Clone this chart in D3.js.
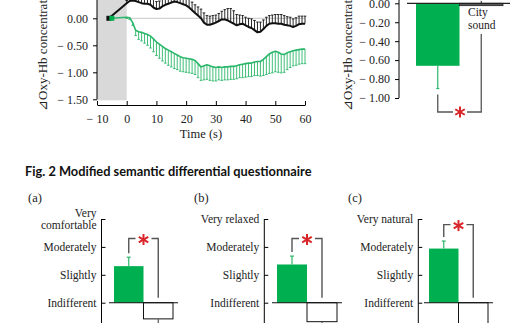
<!DOCTYPE html>
<html><head><meta charset="utf-8">
<script src="https://cdn.jsdelivr.net/npm/d3@7"></script>
<style>body{margin:0;background:#fff}svg{display:block}</style>
</head><body><svg id="c" width="530" height="323"></svg>
<script>
// ---------- data ----------
const timeSec = d3.range(0, 61);
const greenMean = [
  0.02, 0.01,-0.08,-0.22,-0.25,-0.26,-0.28,-0.30,-0.33,-0.38,
 -0.44,-0.48,-0.52,-0.56,-0.59,-0.62,-0.65,-0.68,-0.71,-0.73,
 -0.74,-0.75,-0.76,-0.78,-0.84,-0.90,-0.88,-0.86,-0.88,-0.90,
 -0.91,-0.90,-0.91,-0.90,-0.90,-0.89,-0.89,-0.88,-0.86,-0.85,
 -0.84,-0.83,-0.83,-0.81,-0.80,-0.80,-0.76,-0.71,-0.66,-0.63,
 -0.61,-0.63,-0.66,-0.67,-0.64,-0.62,-0.60,-0.59,-0.58,-0.57,
 -0.57];
const greenErr = [
 0.02,0.03,0.05,0.10,0.14,0.16,0.18,0.20,0.22,0.24,
 0.25,0.26,0.27,0.27,0.28,0.28,0.28,0.27,0.27,0.26,
 0.26,0.26,0.26,0.26,0.26,0.25,0.26,0.27,0.27,0.26,
 0.25,0.24,0.24,0.24,0.24,0.24,0.24,0.24,0.24,0.25,
 0.25,0.25,0.25,0.25,0.26,0.27,0.30,0.33,0.36,0.38,
 0.38,0.37,0.35,0.33,0.31,0.29,0.28,0.28,0.27,0.27,
 0.27];
const blackMean = [
  0.28, 0.32, 0.33, 0.32, 0.30, 0.28, 0.27, 0.27, 0.25, 0.20,
  0.17, 0.18, 0.22, 0.25, 0.27, 0.29, 0.31, 0.30, 0.28, 0.26,
  0.24, 0.20, 0.15, 0.10, 0.05, 0.00,-0.08,-0.12,-0.12,-0.10,
 -0.08,-0.05,-0.02,-0.02,-0.04,-0.07,-0.10,-0.13,-0.11,-0.10,
 -0.13,-0.16,-0.18,-0.22,-0.26,-0.25,-0.20,-0.14,-0.10,-0.09,
 -0.09,-0.10,-0.10,-0.12,-0.13,-0.14,-0.16,-0.14,-0.11,-0.10,
 -0.10];
const blackErr = [
 0.05,0.08,0.10,0.12,0.13,0.14,0.14,0.15,0.15,0.15,
 0.14,0.14,0.15,0.15,0.16,0.16,0.16,0.17,0.17,0.16,
 0.16,0.15,0.15,0.15,0.16,0.17,0.18,0.17,0.16,0.15,
 0.14,0.14,0.15,0.18,0.22,0.25,0.24,0.20,0.17,0.15,
 0.15,0.16,0.17,0.18,0.19,0.18,0.17,0.16,0.15,0.15,
 0.16,0.17,0.17,0.17,0.16,0.16,0.15,0.15,0.15,0.14,
 0.14];
const preTime = {black: -6, green: -5};
const preValue = 0;
const timeTicks = [-10, 0, 10, 20, 30, 40, 50, 60];
const oxyTicks = [0, -0.5, -1, -1.5];
const restWindow = [-10, 0];

const barCats = ["Natural sound", "City sound"];
const barMean = [-0.66, -0.025];
const barErr = [0.24, 0.03];
const barTicks = [0, -0.2, -0.4, -0.6, -0.8, -1.0];

const sdPanels = ["(a)", "(b)", "(c)"];
const sdTopLabels = [["Very", "comfortable"], ["Very relaxed"], ["Very natural"]];
const sdLevels = [0, 1, 2, 3];
const sdLevelLabels = ["Indifferent", "Slightly", "Moderately"];
const sdNatural = [1.31, 1.37, 1.94];
const sdNaturalErr = [0.32, 0.30, 0.27];
const sdCity = [-0.58, -0.68, -0.95];
const sdCityErr = [0.3, 0.3, 0.3];
const sdBracketTop = [2.3, 2.3, 2.8];

const yLabel = "\u22BFOxy-Hb concentration (mM\u00B7mm)";
const fig2Title = "Fig. 2 Modified semantic differential questionnaire";

// ---------- style ----------
const GREEN = "#00b050", GREEN_L = "#2bb76a", RED = "#d8262a";
const SERIF = "'Liberation Serif','Times New Roman',serif";
const svg = d3.select("#c");

const fmtNeg = d => d < 0 ? "\u2212 " + d3.format(".2f")(-d) : d3.format(".2f")(d);

function asterisk(g, cx, cy, r) {
  [90, 30, 150].forEach(a => {
    const rad = a * Math.PI / 180;
    g.append("line")
      .attr("x1", cx - r * Math.cos(rad)).attr("y1", cy - r * Math.sin(rad))
      .attr("x2", cx + r * Math.cos(rad)).attr("y2", cy + r * Math.sin(rad))
      .attr("stroke", RED).attr("stroke-width", 2);
  });
}
function styleAxis(g) {
  g.attr("font-family", SERIF);
  g.selectAll("path,line").attr("stroke", "#000").attr("stroke-width", 1);
  g.selectAll("text").attr("font-family", SERIF).attr("fill", "#222");
}

// ---------- Fig 1 left: time course ----------
{
  const x = d3.scaleLinear().domain([-10, 60]).range([97, 305]);
  const y = d3.scaleLinear().domain([-1.5, 0.5]).range([99.3, -8.7]);
  const g = svg.append("g");

  g.append("rect").attr("x", x(restWindow[0])).attr("y", y(0.5))
    .attr("width", x(restWindow[1]) - x(restWindow[0])).attr("height", y(-1.5) - y(0.5) + 1)
    .attr("fill", "#d9d9d9");
  g.append("line").attr("x1", x(0)).attr("x2", x(60)).attr("y1", y(0)).attr("y2", y(0))
    .attr("stroke", "#c8c8c8").attr("stroke-width", 1);

  const ya = g.append("g").attr("transform", `translate(${x(-10)},0)`)
    .call(d3.axisLeft(y).tickValues(oxyTicks).tickFormat(fmtNeg).tickSize(4).tickPadding(5).tickSizeOuter(0));
  ya.select(".domain").attr("d", `M0,${y(0.5)}V${y(-1.5)}`);
  styleAxis(ya); ya.selectAll("text").attr("font-size", 12);

  const xa = g.append("g").attr("transform", "translate(0,105)")
    .call(d3.axisBottom(x).tickValues(timeTicks).tickFormat(d => d < 0 ? "\u2212 " + (-d) : d).tickSize(-4).tickPadding(9).tickSizeOuter(0));
  styleAxis(xa); xa.selectAll("text").attr("font-size", 12);
  g.append("text").attr("x", x(25)).attr("y", 138).attr("text-anchor", "middle")
    .attr("font-family", SERIF).attr("font-size", 12.5).attr("fill", "#222").text("Time (s)");

  g.append("text").attr("transform", "translate(46.5,111) rotate(-90)")
    .attr("font-family", SERIF).attr("font-size", 13).attr("fill", "#222").text(yLabel);

  const series = [
    {m: blackMean, e: blackErr, dir: 1, c: "#111", lw: 2, pre: preTime.black},
    {m: greenMean, e: greenErr, dir: -1, c: GREEN_L, lw: 1.6, pre: preTime.green}
  ];
  series.forEach(s => {
    const eb = g.append("g");
    timeSec.forEach((t, i) => {
      const y0 = y(s.m[i]), y1 = y(s.m[i] + s.dir * s.e[i]);
      eb.append("line").attr("x1", x(t)).attr("x2", x(t)).attr("y1", y0).attr("y2", y1)
        .attr("stroke", s.c).attr("stroke-width", 0.9);
      eb.append("line").attr("x1", x(t) - 1.3).attr("x2", x(t) + 1.3).attr("y1", y1).attr("y2", y1)
        .attr("stroke", s.c).attr("stroke-width", 0.9);
    });
    const pts = [[s.pre, preValue]].concat(timeSec.map((t, i) => [t, s.m[i]]));
    g.append("path").attr("d", d3.line().x(d => x(d[0])).y(d => y(d[1]))(pts))
      .attr("fill", "none").attr("stroke", s.c).attr("stroke-width", s.lw).attr("stroke-linejoin", "round");
    g.append("rect").attr("x", x(s.pre) - 2.5).attr("y", y(preValue) - 2.5).attr("width", 5).attr("height", 5)
      .attr("fill", s.c === "#111" ? "#111" : GREEN);
  });
}

// ---------- Fig 1 right: bar ----------
{
  const x = d3.scaleBand().domain(barCats).range([416, 503]).padding(0);
  const y = d3.scaleLinear().domain([-1, 0]).range([98, 3.3]);
  const g = svg.append("g");
  const ya = g.append("g").attr("transform", "translate(399,0)")
    .call(d3.axisLeft(y).tickValues(barTicks).tickFormat(fmtNeg).tickSize(4).tickPadding(5).tickSizeOuter(0));
  ya.select(".domain").attr("d", `M0,-2V${y(-1)}`);
  styleAxis(ya); ya.selectAll("text").attr("font-size", 12);

  g.append("text").attr("transform", "translate(351.5,111) rotate(-90)")
    .attr("font-family", SERIF).attr("font-size", 13).attr("fill", "#222").text(yLabel);

  barCats.forEach((c, i) => {
    const v = barMean[i];
    g.append("rect").attr("x", x(c)).attr("width", x.bandwidth()).attr("y", y(0))
      .attr("height", y(v) - y(0))
      .attr("fill", i === 0 ? GREEN : "#555").attr("stroke", i === 0 ? "none" : "#222").attr("stroke-width", 0.8);
  });
  const cx0 = x(barCats[0]) + x.bandwidth() / 2, cx1 = x(barCats[1]) + x.bandwidth() / 2;
  g.append("line").attr("x1", cx0).attr("x2", cx0).attr("y1", y(barMean[0])).attr("y2", y(barMean[0] - barErr[0]))
    .attr("stroke", GREEN_L).attr("stroke-width", 1.2);
  g.append("line").attr("x1", cx0 - 1.5).attr("x2", cx0 + 1.5).attr("y1", y(barMean[0] - barErr[0])).attr("y2", y(barMean[0] - barErr[0]))
    .attr("stroke", GREEN_L).attr("stroke-width", 1.2);
  g.append("line").attr("x1", cx1).attr("x2", cx1).attr("y1", y(0)).attr("y2", y(barMean[1] + barErr[1]) - 2)
    .attr("stroke", "#222").attr("stroke-width", 1);
  g.append("line").attr("x1", 407).attr("x2", 510).attr("y1", y(0)).attr("y2", y(0))
    .attr("stroke", "#222").attr("stroke-width", 1.2);

  g.append("text").attr("x", 468).attr("y", 16).attr("font-family", SERIF).attr("font-size", 11.5).attr("fill", "#222").text("City");
  g.append("text").attr("x", 468).attr("y", 29).attr("font-family", SERIF).attr("font-size", 11.5).attr("fill", "#222").text("sound");

  const by = 112, ax = 460;
  const br = g.append("g").attr("stroke", "#555").attr("stroke-width", 1.3).attr("fill", "none");
  br.append("path").attr("d", `M${cx0},${y(barMean[0] - barErr[0]) + 6}V${by}H${ax - 7}`);
  br.append("path").attr("d", `M${ax + 7},${by}H${cx1}V34`);
  asterisk(g, ax, by, 5.5);
}

// ---------- Fig 2 title ----------
svg.append("text").attr("x", 25).attr("y", 176).attr("font-family", "Lato,'Open Sans',sans-serif")
  .attr("font-weight", 700).attr("font-size", 12.8).attr("fill", "#111").text(fig2Title);

// ---------- Fig 2 panels ----------
const panelGeom = [
  {axisX: 101.5, bars: [114, 173], lab: [28, 202]},
  {axisX: 264.3, bars: [277, 337], lab: [194, 202]},
  {axisX: 418.3, bars: [429, 488], lab: [348, 202]}
];
sdPanels.forEach((p, k) => {
  const G = panelGeom[k];
  const g = svg.append("g");
  const y = d3.scaleLinear().domain([0, 3]).range([302.7, 219]);
  const x = d3.scaleBand().domain(barCats).range(G.bars).padding(0);

  g.append("text").attr("x", G.lab[0]).attr("y", G.lab[1]).attr("font-family", SERIF)
    .attr("font-size", 12.5).attr("fill", "#222").text(p);

  const ya = g.append("g").attr("transform", `translate(${G.axisX},0)`)
    .call(d3.axisRight(y).tickValues(sdLevels).tickFormat("").tickSize(4).tickSizeOuter(0));
  ya.select(".domain").attr("d", `M0,${y(3)}V330`);
  styleAxis(ya);

  sdLevels.forEach(lv => {
    const lines = lv === 3 ? sdTopLabels[k] : [sdLevelLabels[lv]];
    lines.forEach((t, j) => {
      const off = lines.length === 2 ? (j === 0 ? -6 : 6) : 0;
      g.append("text").attr("x", G.axisX - 5).attr("y", y(lv) + off + 4).attr("text-anchor", "end")
        .attr("font-family", SERIF).attr("font-size", 11.5).attr("fill", "#222").text(t);
    });
  });

  const nat = sdNatural[k], city = sdCity[k];
  g.append("rect").attr("x", x(barCats[0])).attr("width", x.bandwidth())
    .attr("y", y(nat)).attr("height", y(0) - y(nat)).attr("fill", GREEN);
  g.append("rect").attr("x", x(barCats[1])).attr("width", x.bandwidth())
    .attr("y", y(0)).attr("height", y(city) - y(0)).attr("fill", "#fff")
    .attr("stroke", "#111").attr("stroke-width", 1);
  const cx0 = x(barCats[0]) + x.bandwidth() / 2, cx1 = x(barCats[1]) + x.bandwidth() / 2;
  const et = y(nat + sdNaturalErr[k]);
  g.append("line").attr("x1", cx0).attr("x2", cx0).attr("y1", y(nat)).attr("y2", et).attr("stroke", GREEN_L).attr("stroke-width", 1.2);
  g.append("line").attr("x1", cx0 - 2).attr("x2", cx0 + 2).attr("y1", et).attr("y2", et).attr("stroke", GREEN_L).attr("stroke-width", 1.2);
  g.append("line").attr("x1", cx1).attr("x2", cx1).attr("y1", y(city)).attr("y2", y(city - sdCityErr[k]))
    .attr("stroke", "#555").attr("stroke-width", 1.2);
  g.append("line").attr("x1", G.bars[0] - 5).attr("x2", G.bars[1] + 5).attr("y1", y(0)).attr("y2", y(0))
    .attr("stroke", "#111").attr("stroke-width", 1.1);
  const by = y(sdBracketTop[k]), ax = (cx0 + cx1) / 2;
  const br = g.append("g").attr("stroke", "#555").attr("stroke-width", 1.4).attr("fill", "none");
  br.append("path").attr("d", `M${cx0},${et - 4}V${by}H${ax - 8}`);
  br.append("path").attr("d", `M${ax + 8},${by}H${cx1}V${y(0) - 5}`);
  asterisk(g, ax, by + 1, 5.5);
});
</script></body></html>
